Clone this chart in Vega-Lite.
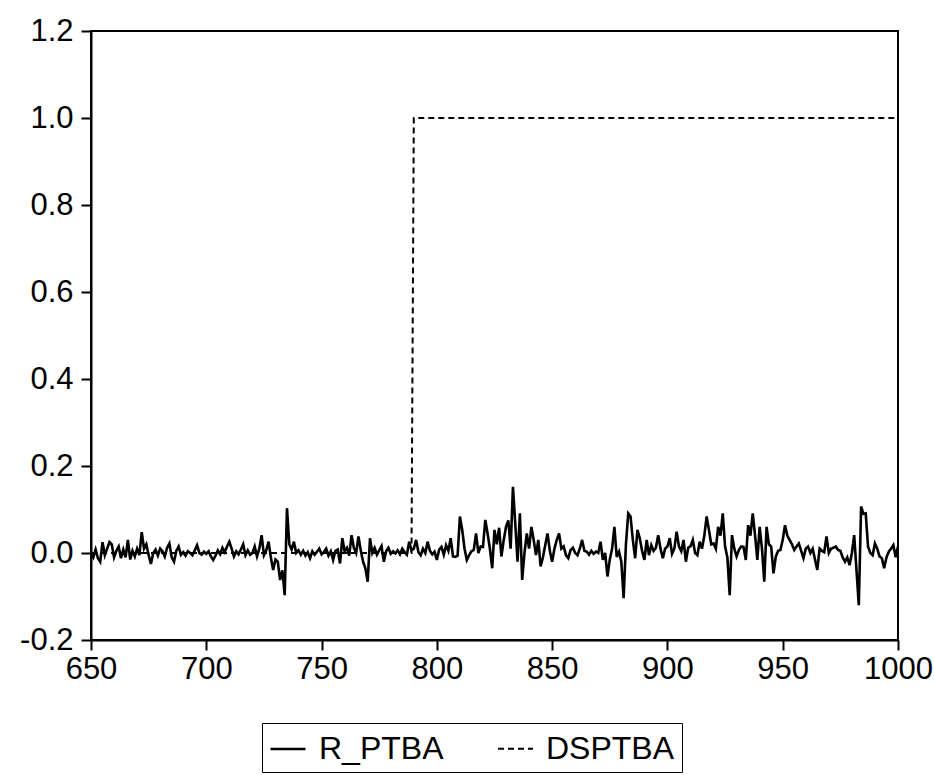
{
  "$schema": "https://vega.github.io/schema/vega-lite/v6.json",
  "width": 807,
  "height": 609,
  "autosize": {"type": "none"},
  "padding": {"left": 91, "top": 31, "right": 36, "bottom": 135},
  "background": "white",
  "config": {
    "view": {"stroke": "black", "strokeWidth": 2},
    "font": "Liberation Sans",
    "axis": {
      "domainColor": "black", "domainWidth": 2, "tickColor": "black", "tickWidth": 2,
      "tickSize": 10, "labelColor": "black", "labelFont": "Liberation Sans", "labelFontSize": 31,
      "grid": false, "title": null
    }
  },
  "data": {"values": [
    {"t":650,"R_PTBA":0.000,"DSPTBA":0},{"t":651,"R_PTBA":-0.010,"DSPTBA":0},{"t":652,"R_PTBA":0.008,"DSPTBA":0},{"t":653,"R_PTBA":-0.012,"DSPTBA":0},{"t":654,"R_PTBA":-0.020,"DSPTBA":0},
    {"t":655,"R_PTBA":0.025,"DSPTBA":0},{"t":656,"R_PTBA":-0.005,"DSPTBA":0},{"t":657,"R_PTBA":0.010,"DSPTBA":0},{"t":658,"R_PTBA":0.025,"DSPTBA":0},{"t":659,"R_PTBA":0.020,"DSPTBA":0},
    {"t":660,"R_PTBA":-0.010,"DSPTBA":0},{"t":661,"R_PTBA":0.005,"DSPTBA":0},{"t":662,"R_PTBA":0.015,"DSPTBA":0},{"t":663,"R_PTBA":-0.012,"DSPTBA":0},{"t":664,"R_PTBA":0.008,"DSPTBA":0},
    {"t":665,"R_PTBA":-0.010,"DSPTBA":0},{"t":666,"R_PTBA":0.030,"DSPTBA":0},{"t":667,"R_PTBA":-0.015,"DSPTBA":0},{"t":668,"R_PTBA":0.005,"DSPTBA":0},{"t":669,"R_PTBA":-0.008,"DSPTBA":0},
    {"t":670,"R_PTBA":0.010,"DSPTBA":0},{"t":671,"R_PTBA":-0.005,"DSPTBA":0},{"t":672,"R_PTBA":0.048,"DSPTBA":0},{"t":673,"R_PTBA":0.010,"DSPTBA":0},{"t":674,"R_PTBA":0.020,"DSPTBA":0},
    {"t":675,"R_PTBA":-0.005,"DSPTBA":0},{"t":676,"R_PTBA":-0.025,"DSPTBA":0},{"t":677,"R_PTBA":0.000,"DSPTBA":0},{"t":678,"R_PTBA":0.008,"DSPTBA":0},{"t":679,"R_PTBA":-0.006,"DSPTBA":0},
    {"t":680,"R_PTBA":0.010,"DSPTBA":0},{"t":681,"R_PTBA":0.004,"DSPTBA":0},{"t":682,"R_PTBA":-0.008,"DSPTBA":0},{"t":683,"R_PTBA":0.012,"DSPTBA":0},{"t":684,"R_PTBA":0.022,"DSPTBA":0},
    {"t":685,"R_PTBA":-0.010,"DSPTBA":0},{"t":686,"R_PTBA":-0.020,"DSPTBA":0},{"t":687,"R_PTBA":0.005,"DSPTBA":0},{"t":688,"R_PTBA":0.015,"DSPTBA":0},{"t":689,"R_PTBA":-0.004,"DSPTBA":0},
    {"t":690,"R_PTBA":0.002,"DSPTBA":0},{"t":691,"R_PTBA":-0.006,"DSPTBA":0},{"t":692,"R_PTBA":0.004,"DSPTBA":0},{"t":693,"R_PTBA":0.000,"DSPTBA":0},{"t":694,"R_PTBA":-0.005,"DSPTBA":0},
    {"t":695,"R_PTBA":0.006,"DSPTBA":0},{"t":696,"R_PTBA":0.018,"DSPTBA":0},{"t":697,"R_PTBA":0.000,"DSPTBA":0},{"t":698,"R_PTBA":-0.004,"DSPTBA":0},{"t":699,"R_PTBA":0.003,"DSPTBA":0},
    {"t":700,"R_PTBA":-0.002,"DSPTBA":0},{"t":701,"R_PTBA":0.004,"DSPTBA":0},{"t":702,"R_PTBA":-0.008,"DSPTBA":0},{"t":703,"R_PTBA":-0.016,"DSPTBA":0},{"t":704,"R_PTBA":-0.006,"DSPTBA":0},
    {"t":705,"R_PTBA":0.006,"DSPTBA":0},{"t":706,"R_PTBA":-0.003,"DSPTBA":0},{"t":707,"R_PTBA":0.012,"DSPTBA":0},{"t":708,"R_PTBA":0.002,"DSPTBA":0},{"t":709,"R_PTBA":0.015,"DSPTBA":0},
    {"t":710,"R_PTBA":0.026,"DSPTBA":0},{"t":711,"R_PTBA":0.010,"DSPTBA":0},{"t":712,"R_PTBA":-0.008,"DSPTBA":0},{"t":713,"R_PTBA":0.004,"DSPTBA":0},{"t":714,"R_PTBA":-0.003,"DSPTBA":0},
    {"t":715,"R_PTBA":0.008,"DSPTBA":0},{"t":716,"R_PTBA":0.020,"DSPTBA":0},{"t":717,"R_PTBA":-0.005,"DSPTBA":0},{"t":718,"R_PTBA":0.006,"DSPTBA":0},{"t":719,"R_PTBA":-0.004,"DSPTBA":0},
    {"t":720,"R_PTBA":0.000,"DSPTBA":0},{"t":721,"R_PTBA":0.015,"DSPTBA":0},{"t":722,"R_PTBA":-0.008,"DSPTBA":0},{"t":723,"R_PTBA":0.010,"DSPTBA":0},{"t":724,"R_PTBA":0.041,"DSPTBA":0},
    {"t":725,"R_PTBA":-0.005,"DSPTBA":0},{"t":726,"R_PTBA":0.006,"DSPTBA":0},{"t":727,"R_PTBA":0.026,"DSPTBA":0},{"t":728,"R_PTBA":-0.010,"DSPTBA":0},{"t":729,"R_PTBA":-0.039,"DSPTBA":0},
    {"t":730,"R_PTBA":-0.015,"DSPTBA":0},{"t":731,"R_PTBA":-0.020,"DSPTBA":0},{"t":732,"R_PTBA":-0.062,"DSPTBA":0},{"t":733,"R_PTBA":-0.040,"DSPTBA":0},{"t":734,"R_PTBA":-0.097,"DSPTBA":0},
    {"t":735,"R_PTBA":0.103,"DSPTBA":0},{"t":736,"R_PTBA":0.020,"DSPTBA":0},{"t":737,"R_PTBA":0.008,"DSPTBA":0},{"t":738,"R_PTBA":0.026,"DSPTBA":0},{"t":739,"R_PTBA":0.000,"DSPTBA":0},
    {"t":740,"R_PTBA":0.006,"DSPTBA":0},{"t":741,"R_PTBA":-0.004,"DSPTBA":0},{"t":742,"R_PTBA":0.005,"DSPTBA":0},{"t":743,"R_PTBA":-0.006,"DSPTBA":0},{"t":744,"R_PTBA":0.002,"DSPTBA":0},
    {"t":745,"R_PTBA":-0.012,"DSPTBA":0},{"t":746,"R_PTBA":0.004,"DSPTBA":0},{"t":747,"R_PTBA":-0.004,"DSPTBA":0},{"t":748,"R_PTBA":0.003,"DSPTBA":0},{"t":749,"R_PTBA":0.010,"DSPTBA":0},
    {"t":750,"R_PTBA":-0.003,"DSPTBA":0},{"t":751,"R_PTBA":0.002,"DSPTBA":0},{"t":752,"R_PTBA":0.010,"DSPTBA":0},{"t":753,"R_PTBA":-0.006,"DSPTBA":0},{"t":754,"R_PTBA":0.004,"DSPTBA":0},
    {"t":755,"R_PTBA":-0.016,"DSPTBA":0},{"t":756,"R_PTBA":0.005,"DSPTBA":0},{"t":757,"R_PTBA":0.008,"DSPTBA":0},{"t":758,"R_PTBA":-0.024,"DSPTBA":0},{"t":759,"R_PTBA":0.034,"DSPTBA":0},
    {"t":760,"R_PTBA":0.004,"DSPTBA":0},{"t":761,"R_PTBA":0.012,"DSPTBA":0},{"t":762,"R_PTBA":-0.006,"DSPTBA":0},{"t":763,"R_PTBA":0.041,"DSPTBA":0},{"t":764,"R_PTBA":0.012,"DSPTBA":0},
    {"t":765,"R_PTBA":0.000,"DSPTBA":0},{"t":766,"R_PTBA":0.038,"DSPTBA":0},{"t":767,"R_PTBA":0.006,"DSPTBA":0},{"t":768,"R_PTBA":-0.020,"DSPTBA":0},{"t":769,"R_PTBA":-0.035,"DSPTBA":0},
    {"t":770,"R_PTBA":-0.066,"DSPTBA":0},{"t":771,"R_PTBA":0.034,"DSPTBA":0},{"t":772,"R_PTBA":0.000,"DSPTBA":0},{"t":773,"R_PTBA":0.012,"DSPTBA":0},{"t":774,"R_PTBA":-0.004,"DSPTBA":0},
    {"t":775,"R_PTBA":0.006,"DSPTBA":0},{"t":776,"R_PTBA":0.016,"DSPTBA":0},{"t":777,"R_PTBA":-0.020,"DSPTBA":0},{"t":778,"R_PTBA":0.004,"DSPTBA":0},{"t":779,"R_PTBA":0.012,"DSPTBA":0},
    {"t":780,"R_PTBA":-0.002,"DSPTBA":0},{"t":781,"R_PTBA":0.004,"DSPTBA":0},{"t":782,"R_PTBA":-0.001,"DSPTBA":0},{"t":783,"R_PTBA":0.006,"DSPTBA":0},{"t":784,"R_PTBA":-0.003,"DSPTBA":0},
    {"t":785,"R_PTBA":0.010,"DSPTBA":0},{"t":786,"R_PTBA":0.002,"DSPTBA":0},{"t":787,"R_PTBA":-0.004,"DSPTBA":0},{"t":788,"R_PTBA":0.026,"DSPTBA":0},{"t":789,"R_PTBA":0.006,"DSPTBA":0},
    {"t":790,"R_PTBA":0.010,"DSPTBA":1},{"t":791,"R_PTBA":0.030,"DSPTBA":1},{"t":792,"R_PTBA":0.002,"DSPTBA":1},{"t":793,"R_PTBA":-0.005,"DSPTBA":1},{"t":794,"R_PTBA":0.010,"DSPTBA":1},
    {"t":795,"R_PTBA":0.000,"DSPTBA":1},{"t":796,"R_PTBA":0.026,"DSPTBA":1},{"t":797,"R_PTBA":0.005,"DSPTBA":1},{"t":798,"R_PTBA":-0.003,"DSPTBA":1},{"t":799,"R_PTBA":0.003,"DSPTBA":1},
    {"t":800,"R_PTBA":-0.016,"DSPTBA":1},{"t":801,"R_PTBA":0.008,"DSPTBA":1},{"t":802,"R_PTBA":0.014,"DSPTBA":1},{"t":803,"R_PTBA":-0.004,"DSPTBA":1},{"t":804,"R_PTBA":0.018,"DSPTBA":1},
    {"t":805,"R_PTBA":0.005,"DSPTBA":1},{"t":806,"R_PTBA":0.034,"DSPTBA":1},{"t":807,"R_PTBA":-0.008,"DSPTBA":1},{"t":808,"R_PTBA":-0.009,"DSPTBA":1},{"t":809,"R_PTBA":-0.006,"DSPTBA":1},
    {"t":810,"R_PTBA":0.084,"DSPTBA":1},{"t":811,"R_PTBA":0.053,"DSPTBA":1},{"t":812,"R_PTBA":0.010,"DSPTBA":1},{"t":813,"R_PTBA":-0.016,"DSPTBA":1},{"t":814,"R_PTBA":-0.005,"DSPTBA":1},
    {"t":815,"R_PTBA":0.004,"DSPTBA":1},{"t":816,"R_PTBA":0.007,"DSPTBA":1},{"t":817,"R_PTBA":0.045,"DSPTBA":1},{"t":818,"R_PTBA":0.000,"DSPTBA":1},{"t":819,"R_PTBA":0.015,"DSPTBA":1},
    {"t":820,"R_PTBA":0.014,"DSPTBA":1},{"t":821,"R_PTBA":0.076,"DSPTBA":1},{"t":822,"R_PTBA":0.045,"DSPTBA":1},{"t":823,"R_PTBA":0.010,"DSPTBA":1},{"t":824,"R_PTBA":-0.035,"DSPTBA":1},
    {"t":825,"R_PTBA":0.053,"DSPTBA":1},{"t":826,"R_PTBA":0.020,"DSPTBA":1},{"t":827,"R_PTBA":0.058,"DSPTBA":1},{"t":828,"R_PTBA":-0.008,"DSPTBA":1},{"t":829,"R_PTBA":0.030,"DSPTBA":1},
    {"t":830,"R_PTBA":0.060,"DSPTBA":1},{"t":831,"R_PTBA":0.075,"DSPTBA":1},{"t":832,"R_PTBA":0.010,"DSPTBA":1},{"t":833,"R_PTBA":0.152,"DSPTBA":1},{"t":834,"R_PTBA":0.068,"DSPTBA":1},
    {"t":835,"R_PTBA":-0.020,"DSPTBA":1},{"t":836,"R_PTBA":0.091,"DSPTBA":1},{"t":837,"R_PTBA":-0.062,"DSPTBA":1},{"t":838,"R_PTBA":0.000,"DSPTBA":1},{"t":839,"R_PTBA":0.045,"DSPTBA":1},
    {"t":840,"R_PTBA":0.010,"DSPTBA":1},{"t":841,"R_PTBA":0.060,"DSPTBA":1},{"t":842,"R_PTBA":0.030,"DSPTBA":1},{"t":843,"R_PTBA":-0.005,"DSPTBA":1},{"t":844,"R_PTBA":0.030,"DSPTBA":1},
    {"t":845,"R_PTBA":-0.031,"DSPTBA":1},{"t":846,"R_PTBA":-0.010,"DSPTBA":1},{"t":847,"R_PTBA":0.018,"DSPTBA":1},{"t":848,"R_PTBA":0.045,"DSPTBA":1},{"t":849,"R_PTBA":0.005,"DSPTBA":1},
    {"t":850,"R_PTBA":-0.020,"DSPTBA":1},{"t":851,"R_PTBA":0.010,"DSPTBA":1},{"t":852,"R_PTBA":0.030,"DSPTBA":1},{"t":853,"R_PTBA":0.045,"DSPTBA":1},{"t":854,"R_PTBA":0.010,"DSPTBA":1},
    {"t":855,"R_PTBA":0.015,"DSPTBA":1},{"t":856,"R_PTBA":-0.005,"DSPTBA":1},{"t":857,"R_PTBA":-0.012,"DSPTBA":1},{"t":858,"R_PTBA":0.007,"DSPTBA":1},{"t":859,"R_PTBA":0.012,"DSPTBA":1},
    {"t":860,"R_PTBA":0.000,"DSPTBA":1},{"t":861,"R_PTBA":-0.005,"DSPTBA":1},{"t":862,"R_PTBA":0.010,"DSPTBA":1},{"t":863,"R_PTBA":0.030,"DSPTBA":1},{"t":864,"R_PTBA":0.005,"DSPTBA":1},
    {"t":865,"R_PTBA":0.003,"DSPTBA":1},{"t":866,"R_PTBA":-0.004,"DSPTBA":1},{"t":867,"R_PTBA":0.005,"DSPTBA":1},{"t":868,"R_PTBA":-0.002,"DSPTBA":1},{"t":869,"R_PTBA":0.003,"DSPTBA":1},
    {"t":870,"R_PTBA":0.000,"DSPTBA":1},{"t":871,"R_PTBA":0.026,"DSPTBA":1},{"t":872,"R_PTBA":-0.016,"DSPTBA":1},{"t":873,"R_PTBA":0.000,"DSPTBA":1},{"t":874,"R_PTBA":-0.054,"DSPTBA":1},
    {"t":875,"R_PTBA":-0.015,"DSPTBA":1},{"t":876,"R_PTBA":0.010,"DSPTBA":1},{"t":877,"R_PTBA":0.060,"DSPTBA":1},{"t":878,"R_PTBA":-0.009,"DSPTBA":1},{"t":879,"R_PTBA":0.003,"DSPTBA":1},
    {"t":880,"R_PTBA":-0.020,"DSPTBA":1},{"t":881,"R_PTBA":-0.104,"DSPTBA":1},{"t":882,"R_PTBA":0.020,"DSPTBA":1},{"t":883,"R_PTBA":0.091,"DSPTBA":1},{"t":884,"R_PTBA":0.084,"DSPTBA":1},
    {"t":885,"R_PTBA":0.030,"DSPTBA":1},{"t":886,"R_PTBA":-0.012,"DSPTBA":1},{"t":887,"R_PTBA":0.053,"DSPTBA":1},{"t":888,"R_PTBA":0.034,"DSPTBA":1},{"t":889,"R_PTBA":0.005,"DSPTBA":1},
    {"t":890,"R_PTBA":-0.016,"DSPTBA":1},{"t":891,"R_PTBA":0.030,"DSPTBA":1},{"t":892,"R_PTBA":-0.005,"DSPTBA":1},{"t":893,"R_PTBA":0.018,"DSPTBA":1},{"t":894,"R_PTBA":0.005,"DSPTBA":1},
    {"t":895,"R_PTBA":0.012,"DSPTBA":1},{"t":896,"R_PTBA":0.041,"DSPTBA":1},{"t":897,"R_PTBA":0.010,"DSPTBA":1},{"t":898,"R_PTBA":-0.012,"DSPTBA":1},{"t":899,"R_PTBA":0.010,"DSPTBA":1},
    {"t":900,"R_PTBA":0.015,"DSPTBA":1},{"t":901,"R_PTBA":0.034,"DSPTBA":1},{"t":902,"R_PTBA":-0.002,"DSPTBA":1},{"t":903,"R_PTBA":0.010,"DSPTBA":1},{"t":904,"R_PTBA":0.049,"DSPTBA":1},
    {"t":905,"R_PTBA":0.015,"DSPTBA":1},{"t":906,"R_PTBA":0.004,"DSPTBA":1},{"t":907,"R_PTBA":0.030,"DSPTBA":1},{"t":908,"R_PTBA":-0.020,"DSPTBA":1},{"t":909,"R_PTBA":0.012,"DSPTBA":1},
    {"t":910,"R_PTBA":0.015,"DSPTBA":1},{"t":911,"R_PTBA":0.030,"DSPTBA":1},{"t":912,"R_PTBA":0.000,"DSPTBA":1},{"t":913,"R_PTBA":-0.005,"DSPTBA":1},{"t":914,"R_PTBA":0.026,"DSPTBA":1},
    {"t":915,"R_PTBA":0.010,"DSPTBA":1},{"t":916,"R_PTBA":0.040,"DSPTBA":1},{"t":917,"R_PTBA":0.084,"DSPTBA":1},{"t":918,"R_PTBA":0.053,"DSPTBA":1},{"t":919,"R_PTBA":0.020,"DSPTBA":1},
    {"t":920,"R_PTBA":0.022,"DSPTBA":1},{"t":921,"R_PTBA":0.010,"DSPTBA":1},{"t":922,"R_PTBA":0.060,"DSPTBA":1},{"t":923,"R_PTBA":0.040,"DSPTBA":1},{"t":924,"R_PTBA":0.091,"DSPTBA":1},
    {"t":925,"R_PTBA":0.015,"DSPTBA":1},{"t":926,"R_PTBA":-0.010,"DSPTBA":1},{"t":927,"R_PTBA":-0.097,"DSPTBA":1},{"t":928,"R_PTBA":0.041,"DSPTBA":1},{"t":929,"R_PTBA":0.010,"DSPTBA":1},
    {"t":930,"R_PTBA":-0.008,"DSPTBA":1},{"t":931,"R_PTBA":0.007,"DSPTBA":1},{"t":932,"R_PTBA":0.015,"DSPTBA":1},{"t":933,"R_PTBA":0.014,"DSPTBA":1},{"t":934,"R_PTBA":-0.016,"DSPTBA":1},
    {"t":935,"R_PTBA":0.064,"DSPTBA":1},{"t":936,"R_PTBA":0.040,"DSPTBA":1},{"t":937,"R_PTBA":0.091,"DSPTBA":1},{"t":938,"R_PTBA":0.041,"DSPTBA":1},{"t":939,"R_PTBA":-0.016,"DSPTBA":1},
    {"t":940,"R_PTBA":0.060,"DSPTBA":1},{"t":941,"R_PTBA":0.010,"DSPTBA":1},{"t":942,"R_PTBA":-0.066,"DSPTBA":1},{"t":943,"R_PTBA":0.060,"DSPTBA":1},{"t":944,"R_PTBA":0.020,"DSPTBA":1},
    {"t":945,"R_PTBA":0.015,"DSPTBA":1},{"t":946,"R_PTBA":-0.047,"DSPTBA":1},{"t":947,"R_PTBA":-0.008,"DSPTBA":1},{"t":948,"R_PTBA":0.005,"DSPTBA":1},{"t":949,"R_PTBA":0.007,"DSPTBA":1},
    {"t":950,"R_PTBA":0.030,"DSPTBA":1},{"t":951,"R_PTBA":0.064,"DSPTBA":1},{"t":952,"R_PTBA":0.040,"DSPTBA":1},{"t":953,"R_PTBA":0.030,"DSPTBA":1},{"t":954,"R_PTBA":0.020,"DSPTBA":1},
    {"t":955,"R_PTBA":0.007,"DSPTBA":1},{"t":956,"R_PTBA":0.015,"DSPTBA":1},{"t":957,"R_PTBA":0.022,"DSPTBA":1},{"t":958,"R_PTBA":0.005,"DSPTBA":1},{"t":959,"R_PTBA":-0.012,"DSPTBA":1},
    {"t":960,"R_PTBA":0.010,"DSPTBA":1},{"t":961,"R_PTBA":0.015,"DSPTBA":1},{"t":962,"R_PTBA":0.000,"DSPTBA":1},{"t":963,"R_PTBA":0.010,"DSPTBA":1},{"t":964,"R_PTBA":-0.015,"DSPTBA":1},
    {"t":965,"R_PTBA":-0.039,"DSPTBA":1},{"t":966,"R_PTBA":0.010,"DSPTBA":1},{"t":967,"R_PTBA":0.005,"DSPTBA":1},{"t":968,"R_PTBA":0.002,"DSPTBA":1},{"t":969,"R_PTBA":0.038,"DSPTBA":1},
    {"t":970,"R_PTBA":0.000,"DSPTBA":1},{"t":971,"R_PTBA":0.010,"DSPTBA":1},{"t":972,"R_PTBA":0.012,"DSPTBA":1},{"t":973,"R_PTBA":0.015,"DSPTBA":1},{"t":974,"R_PTBA":0.007,"DSPTBA":1},
    {"t":975,"R_PTBA":0.005,"DSPTBA":1},{"t":976,"R_PTBA":-0.010,"DSPTBA":1},{"t":977,"R_PTBA":-0.020,"DSPTBA":1},{"t":978,"R_PTBA":-0.010,"DSPTBA":1},{"t":979,"R_PTBA":-0.028,"DSPTBA":1},
    {"t":980,"R_PTBA":0.000,"DSPTBA":1},{"t":981,"R_PTBA":0.041,"DSPTBA":1},{"t":982,"R_PTBA":-0.040,"DSPTBA":1},{"t":983,"R_PTBA":-0.120,"DSPTBA":1},{"t":984,"R_PTBA":0.107,"DSPTBA":1},
    {"t":985,"R_PTBA":0.090,"DSPTBA":1},{"t":986,"R_PTBA":0.091,"DSPTBA":1},{"t":987,"R_PTBA":0.015,"DSPTBA":1},{"t":988,"R_PTBA":0.000,"DSPTBA":1},{"t":989,"R_PTBA":-0.005,"DSPTBA":1},
    {"t":990,"R_PTBA":0.022,"DSPTBA":1},{"t":991,"R_PTBA":0.010,"DSPTBA":1},{"t":992,"R_PTBA":-0.008,"DSPTBA":1},{"t":993,"R_PTBA":-0.012,"DSPTBA":1},{"t":994,"R_PTBA":-0.035,"DSPTBA":1},
    {"t":995,"R_PTBA":-0.010,"DSPTBA":1},{"t":996,"R_PTBA":0.003,"DSPTBA":1},{"t":997,"R_PTBA":0.010,"DSPTBA":1},{"t":998,"R_PTBA":0.018,"DSPTBA":1},{"t":999,"R_PTBA":-0.010,"DSPTBA":1},
    {"t":1000,"R_PTBA":0.015,"DSPTBA":1}
  ]},
  "transform": [{"fold": ["R_PTBA", "DSPTBA"], "as": ["series", "value"]}],
  "mark": {"type": "line", "color": "black", "clip": true},
  "encoding": {
    "x": {
      "field": "t", "type": "quantitative",
      "scale": {"domain": [650, 1000], "nice": false, "zero": false},
      "axis": {"values": [650, 700, 750, 800, 850, 900, 950, 1000], "format": "d", "labelPadding": 4, "labelFlush": false}
    },
    "y": {
      "field": "value", "type": "quantitative",
      "scale": {"domain": [-0.2, 1.2], "nice": false, "zero": false},
      "axis": {
        "values": [-0.2, 0, 0.2, 0.4, 0.6, 0.8, 1.0, 1.2],
        "labelExpr": "datum.value < -0.0001 ? '-' + format(-datum.value, '.1f') : format(datum.value, '.1f')",
        "labelPadding": 8
      }
    },
    "strokeWidth": {
      "field": "series", "type": "nominal",
      "scale": {"domain": ["R_PTBA", "DSPTBA"], "range": [2.6, 2]},
      "legend": null
    },
    "strokeDash": {
      "field": "series", "type": "nominal",
      "scale": {"domain": ["R_PTBA", "DSPTBA"], "range": [[1, 0], [6, 4]]},
      "legend": {
        "title": null, "orient": "none", "legendX": 171, "legendY": 692,
        "direction": "horizontal", "strokeColor": "black", "padding": 7,
        "labelFontSize": 32, "labelFont": "Liberation Sans", "labelColor": "black",
        "symbolType": "stroke", "symbolSize": 1225, "symbolStrokeWidth": 2,
        "symbolStrokeColor": "black", "labelOffset": 12, "columnPadding": 50
      }
    }
  }
}
